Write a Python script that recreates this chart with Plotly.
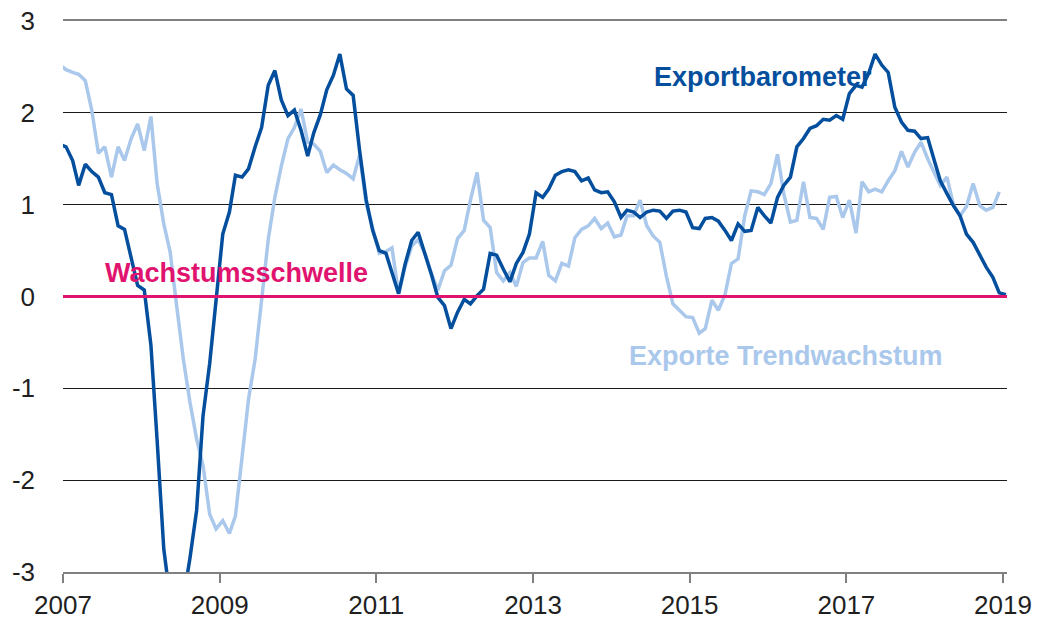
import pandas as pd
import plotly.graph_objects as go

# Monthly values (mid-month), Dec 2006 .. Jan 2019
exportbarometer = [
    1.66,
    1.63, 1.48, 1.21, 1.44, 1.36, 1.30, 1.13, 1.11, 0.77, 0.73, 0.43, 0.12,
    0.07, -0.53, -1.57, -2.75, -3.30, -3.50, -3.30, -2.85, -2.33, -1.30, -0.73, -0.05,
    0.68, 0.92, 1.32, 1.30, 1.39, 1.63, 1.84, 2.30, 2.46, 2.14, 1.97, 2.03,
    1.81, 1.53, 1.78, 1.98, 2.25, 2.41, 2.64, 2.26, 2.19, 1.59, 1.05, 0.72,
    0.50, 0.47, 0.25, 0.03, 0.35, 0.61, 0.70, 0.48, 0.24, -0.01, -0.10, -0.35,
    -0.17, -0.03, -0.08, 0.01, 0.08, 0.47, 0.45, 0.30, 0.16, 0.36, 0.48, 0.68,
    1.13, 1.08, 1.17, 1.32, 1.36, 1.38, 1.36, 1.26, 1.29, 1.16, 1.13, 1.14,
    1.03, 0.86, 0.94, 0.92, 0.86, 0.92, 0.94, 0.93, 0.85, 0.93, 0.94, 0.92,
    0.75, 0.74, 0.85, 0.86, 0.82, 0.72, 0.61, 0.79, 0.71, 0.72, 0.97, 0.88,
    0.80, 1.08, 1.21, 1.30, 1.63, 1.72, 1.83, 1.86, 1.93, 1.92, 1.97, 1.93,
    2.21, 2.30, 2.28, 2.43, 2.64, 2.52, 2.44, 2.06, 1.90, 1.81, 1.80, 1.72,
    1.73, 1.48, 1.26, 1.12, 0.99, 0.88, 0.68, 0.59, 0.46, 0.32, 0.21, 0.04,
    0.02,
]

# Monthly values (mid-month), Dec 2006 .. Dec 2018
exporte_trend = [
    2.53,
    2.47, 2.44, 2.42, 2.35, 2.03, 1.56, 1.63, 1.30, 1.63, 1.48, 1.72, 1.88,
    1.59, 1.96, 1.23, 0.79, 0.48, -0.12, -0.68, -1.15, -1.55, -1.84, -2.37, -2.53,
    -2.44, -2.58, -2.39, -1.75, -1.12, -0.68, -0.05, 0.62, 1.08, 1.42, 1.72, 1.84,
    2.04, 1.68, 1.66, 1.58, 1.35, 1.43, 1.38, 1.34, 1.28, 1.54, 1.01, 0.75,
    0.47, 0.49, 0.53, 0.03, 0.32, 0.55, 0.62, 0.47, 0.25, 0.07, 0.28, 0.34,
    0.63, 0.72, 1.05, 1.35, 0.83, 0.75, 0.26, 0.17, 0.26, 0.11, 0.37, 0.42,
    0.42, 0.60, 0.23, 0.17, 0.36, 0.33, 0.64, 0.73, 0.77, 0.85, 0.74, 0.80,
    0.65, 0.67, 0.88, 0.88, 1.05, 0.77, 0.66, 0.59, 0.22, -0.08, -0.15, -0.22,
    -0.23, -0.40, -0.35, -0.04, -0.15, 0.02, 0.36, 0.41, 0.88, 1.15, 1.14, 1.11,
    1.23, 1.55, 1.12, 0.81, 0.83, 1.25, 0.86, 0.85, 0.73, 1.08, 1.09, 0.86,
    1.05, 0.69, 1.25, 1.14, 1.17, 1.14, 1.26, 1.37, 1.58, 1.41, 1.57, 1.68,
    1.50, 1.34, 1.21, 1.30, 1.00, 0.88, 0.98, 1.23, 0.99, 0.94, 0.97, 1.14,
]

x_ticks = ["2007-01-01", "2009-01-01", "2011-01-01", "2013-01-01",
           "2015-01-01", "2017-01-01", "2019-01-01"]
x_tick_labels = ["2007", "2009", "2011", "2013", "2015", "2017", "2019"]
y_ticks = [-3, -2, -1, 0, 1, 2, 3]
y_tick_labels = ["-3", "-2", "-1", "0", "1", "2", "3"]

dates_dark = pd.date_range("2006-12-01", periods=len(exportbarometer), freq="MS") + pd.Timedelta(days=14)
dates_light = pd.date_range("2006-12-01", periods=len(exporte_trend), freq="MS") + pd.Timedelta(days=14)

DARK = "#034e9d"
LIGHT = "#aac8eb"
MAGENTA = "#e0136f"
FONT = "Liberation Sans"
TXT = "#1f1f1f"

fig = go.Figure()
fig.add_trace(go.Scatter(x=dates_light, y=exporte_trend, mode="lines",
                         line=dict(color=LIGHT, width=3.5), name="Exporte Trendwachstum",
                         hoverinfo="skip"))
fig.add_trace(go.Scatter(x=dates_dark, y=exportbarometer, mode="lines",
                         line=dict(color=DARK, width=3.5), name="Exportbarometer",
                         hoverinfo="skip"))

fig.add_hline(y=0, line=dict(color=MAGENTA, width=3), layer="above")

fig.add_annotation(x="2014-07-08", y=2.39, text="<b>Exportbarometer</b>", showarrow=False,
                   xanchor="left", yanchor="middle", font=dict(family=FONT, size=27, color=DARK))
fig.add_annotation(x="2007-07-06", y=0.26, text="<b>Wachstumsschwelle</b>", showarrow=False,
                   xanchor="left", yanchor="middle", font=dict(family=FONT, size=27, color=MAGENTA))
fig.add_annotation(x="2014-03-17", y=-0.65, text="<b>Exporte Trendwachstum</b>", showarrow=False,
                   xanchor="left", yanchor="middle", font=dict(family=FONT, size=27, color=LIGHT))

fig.update_layout(
    width=1043, height=613,
    margin=dict(l=55, r=44, t=13, b=49),
    paper_bgcolor="white", plot_bgcolor="white",
    showlegend=False,
    font=dict(family=FONT, size=26, color=TXT),
    xaxis=dict(
        type="date",
        range=["2007-01-01", "2019-01-20"],
        tickvals=x_ticks, ticktext=x_tick_labels,
        showgrid=False, zeroline=False,
        showline=True, linecolor="#808080", linewidth=1.5,
        ticks="outside", ticklen=9, tickwidth=1.5, tickcolor="#808080",
        ticklabelstandoff=0,
        ticklabeloverflow="allow",
        mirror=True,
        automargin=False,
        tickfont=dict(family=FONT, size=26, color=TXT),
    ),
    yaxis=dict(
        range=[-3, 3],
        tickvals=y_ticks, ticktext=y_tick_labels,
        showgrid=True, gridcolor="#1a1a1a", gridwidth=1,
        zeroline=False, showline=False, ticks="",
        ticklabelstandoff=27,
        ticklabeloverflow="allow",
        automargin=False,
        tickfont=dict(family=FONT, size=26, color=TXT),
    ),
)

fig.write_html("out.html")
